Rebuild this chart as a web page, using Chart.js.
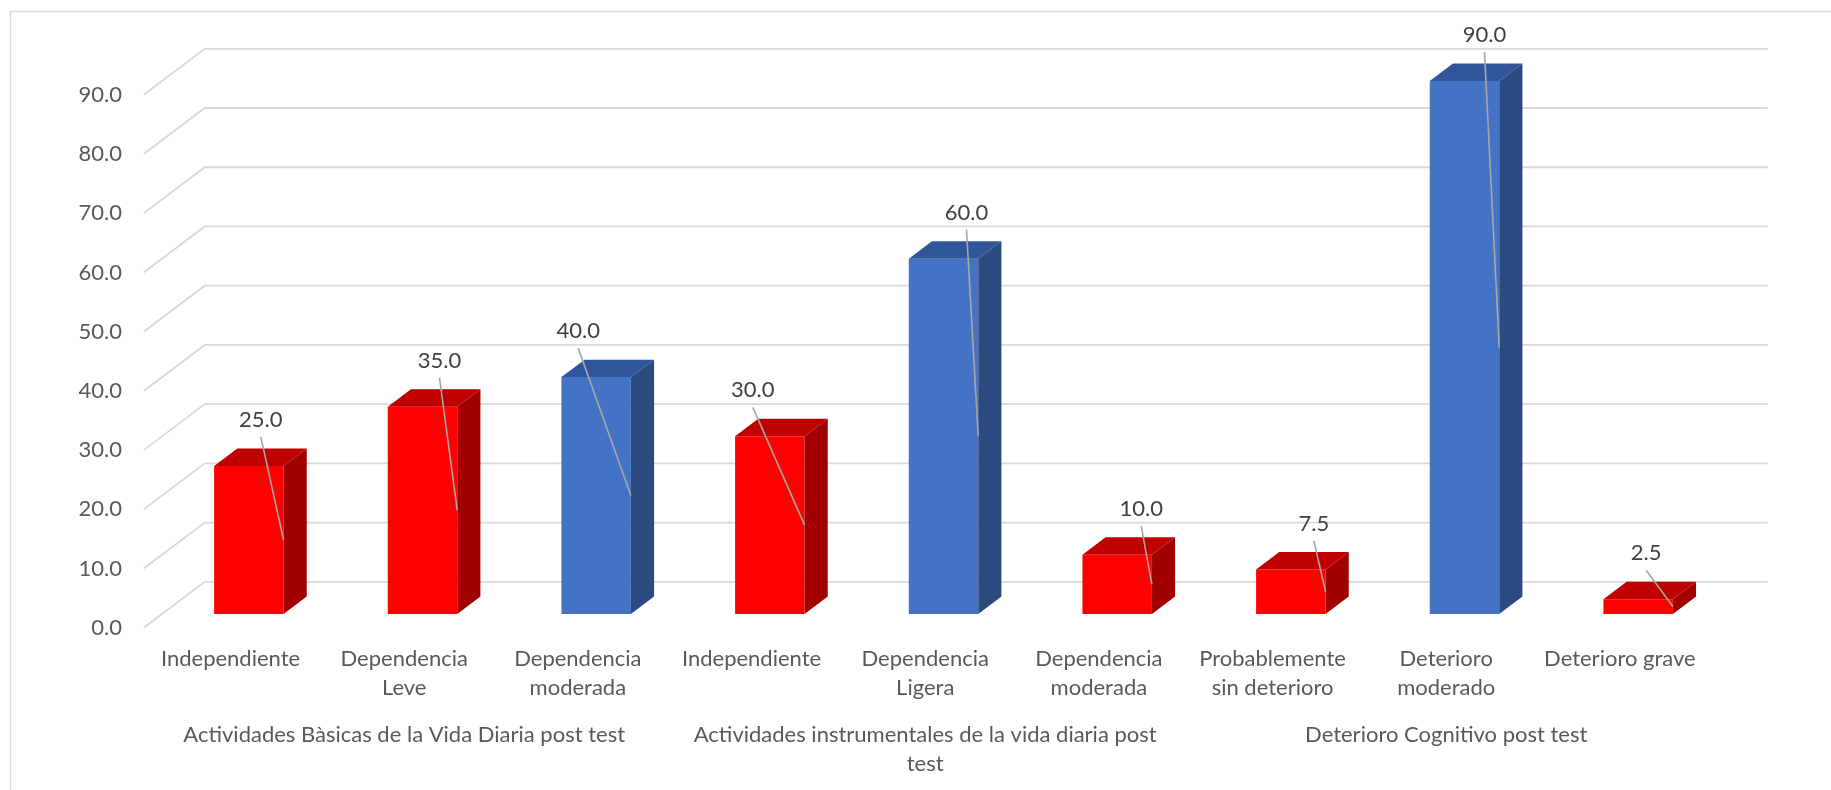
<!DOCTYPE html>
<html>
<head>
<meta charset="utf-8">
<script src="https://cdn.jsdelivr.net/npm/chart.js@4/dist/chart.umd.min.js"></script>
<style>
  html,body{margin:0;padding:0;background:#fff;}
  #wrap{width:1831px;height:790px;position:relative;}
</style>
</head>
<body>
<div id="wrap"><canvas id="chart" width="1831" height="790"></canvas></div>
<script>
// categorias (multi-linea) y valores (%)
const categories = [
  ["Independiente"], ["Dependencia","Leve"], ["Dependencia","moderada"],
  ["Independiente"], ["Dependencia","Ligera"], ["Dependencia","moderada"],
  ["Probablemente","sin deterioro"], ["Deterioro","moderado"], ["Deterioro grave"]
];
const values = [25.0, 35.0, 40.0, 30.0, 60.0, 10.0, 7.5, 90.0, 2.5];

// grupos del eje x
const groupNames = [
  ["Actividades Bàsicas de la Vida Diaria post test"],
  ["Actividades instrumentales de la vida diaria post","test"],
  ["Deterioro Cognitivo post test"]
];
const groupSizes = [3, 3, 3];

// eje y
const yMin = 0, yMax = 90, yStep = 10;

// color de cada barra
const tones = ["red","red","blue","red","blue","red","red","blue","red"];
const PALETTE = {
  red:  {front:"#FF0000", top:"#C00000", side:"#A20000"},
  blue: {front:"#4472C4", top:"#31559A", side:"#2B4A80"}
};
// desplazamiento horizontal de cada etiqueta de datos
const labelShift = [12, 17, -18, -17, 23, 24, 23, 20, 8];

// geometria "3D": profundidad del piso y de las barras
const DEPTH_X = 61, DEPTH_Y = -46;
const FRONT = 0.3;   // plano de las barras dentro del piso
const BAR_D = 0.38;  // profundidad de la barra
const GRID = "#D9D9D9";
const TXT = "#595959";
const FONT = "Lato";
const FSIZE = 22;

Chart.defaults.font.family = FONT;

const frame = {
  id:"frame",
  beforeDraw(c){
    const g = c.ctx;
    g.save();
    g.strokeStyle = GRID; g.lineWidth = 1.5;
    g.strokeRect(10.5, 11.5, 1900, 900);
    g.restore();
  }
};

// lineas de la pared y el lateral
const walls = {
  id:"walls",
  beforeDatasetsDraw(c){
    const g = c.ctx, ys = c.scales.y, a = c.chartArea;
    const fx = -FRONT*DEPTH_X, fy = -FRONT*DEPTH_Y;
    const bx = (1-FRONT)*DEPTH_X, by = (1-FRONT)*DEPTH_Y;
    g.save();
    g.strokeStyle = GRID; g.lineWidth = 1.8;
    ys.ticks.forEach(t=>{
      const yb = ys.getPixelForValue(t.value);
      g.beginPath();
      g.moveTo(a.left+fx, yb+fy);
      g.lineTo(a.left+bx, yb+by);
      g.lineTo(a.right+bx, yb+by);
      g.stroke();
    });
    g.restore();
  }
};

// caras superior y lateral, etiquetas con linea guia
const boxes = {
  id:"boxes",
  afterDatasetsDraw(c){
    const g = c.ctx;
    const dx = BAR_D*DEPTH_X, dy = BAR_D*DEPTH_Y;
    const meta = c.getDatasetMeta(0);
    g.save();
    meta.data.forEach((bar,i)=>{
      const p = bar.getProps(["x","y","base","width"], true);
      const l = p.x - p.width/2, r = p.x + p.width/2;
      const col = PALETTE[tones[i]];
      g.fillStyle = col.top;
      g.beginPath();
      g.moveTo(l, p.y); g.lineTo(r, p.y); g.lineTo(r+dx, p.y+dy); g.lineTo(l+dx, p.y+dy);
      g.closePath(); g.fill();
      g.fillStyle = col.side;
      g.beginPath();
      g.moveTo(r, p.y); g.lineTo(r+dx, p.y+dy); g.lineTo(r+dx, p.base+dy); g.lineTo(r, p.base);
      g.closePath(); g.fill();
    });
    meta.data.forEach((bar,i)=>{
      const p = bar.getProps(["x","y","base","width"], true);
      const lx = p.x + labelShift[i], ly = p.y - 46;
      g.strokeStyle = "#A6A6A6"; g.lineWidth = 1.6;
      g.beginPath();
      g.moveTo(lx, ly+17);
      g.lineTo(p.x + p.width/2, (p.y+p.base)/2);
      g.stroke();
      g.fillStyle = "#404040";
      g.font = FSIZE + "px " + FONT;
      g.textAlign = "center"; g.textBaseline = "middle";
      g.fillText(values[i].toFixed(1), lx, ly);
    });
    g.restore();
  }
};

// segundo nivel de etiquetas del eje x
const groupAxis = {
  id:"groupAxis",
  afterDraw(c){
    const g = c.ctx, xs = c.scales.x, a = c.chartArea;
    g.save();
    g.fillStyle = TXT;
    g.font = FSIZE + "px " + FONT;
    g.textAlign = "center"; g.textBaseline = "middle";
    let start = 0;
    groupNames.forEach((lines,k)=>{
      const end = start + groupSizes[k] - 1;
      const cx = (xs.getPixelForValue(start) + xs.getPixelForValue(end))/2 - FRONT*DEPTH_X;
      lines.forEach((s,j)=> g.fillText(s, cx, a.bottom + 121 + j*29));
      start = end + 1;
    });
    g.restore();
  }
};

new Chart(document.getElementById("chart"),{
  type:"bar",
  data:{
    labels: categories,
    datasets:[{
      data: values,
      backgroundColor: tones.map(t=>PALETTE[t].front),
      borderWidth: 0,
      barPercentage: 0.4,
      categoryPercentage: 1,
      clip: false
    }]
  },
  options:{
    responsive:false,
    animation:false,
    layout:{ padding:{ left:0, right:106, top:81, bottom:0 } },
    plugins:{ legend:{display:false}, tooltip:{enabled:false} },
    scales:{
      x:{
        grid:{display:false, drawTicks:false},
        border:{display:false},
        ticks:{
          color:TXT, font:{size:FSIZE, lineHeight:29/FSIZE}, padding:30.5,
          labelOffset: -FRONT*DEPTH_X, maxRotation:0, autoSkip:false
        },
        afterFit(s){ s.height = 176; }
      },
      y:{
        min:yMin, max:yMax,
        grid:{display:false, drawTicks:false},
        border:{display:false},
        ticks:{
          stepSize:yStep, color:TXT, font:{size:FSIZE}, padding:40,
          labelOffset: -FRONT*DEPTH_Y,
          callback:v=>Number(v).toFixed(1)
        },
        afterFit(s){ s.width = 162; }
      }
    }
  },
  plugins:[frame, walls, boxes, groupAxis]
});
</script>
</body>
</html>
